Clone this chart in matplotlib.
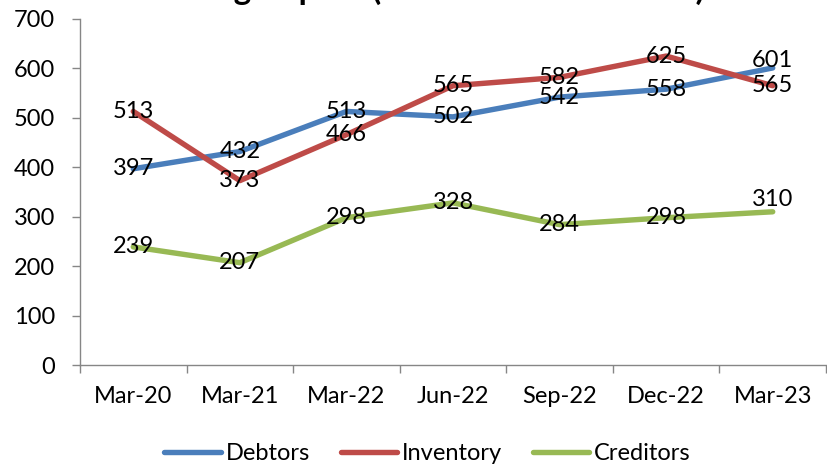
import matplotlib
matplotlib.use("Agg")
import matplotlib.pyplot as plt
import numpy as np

plt.rcParams['font.family'] = ['Lato', 'DejaVu Sans']

# chart data
periods = ["Mar-20", "Mar-21", "Mar-22", "Jun-22", "Sep-22", "Dec-22", "Mar-23"]
debtors = [397, 432, 513, 502, 542, 558, 601]
inventory = [513, 373, 466, 565, 582, 625, 565]
creditors = [239, 207, 298, 328, 284, 298, 310]
title = "Working Capital (Amount in Rs. Crores)"

blue = "#4A7EBB"
red = "#BE4B48"
green = "#98B954"
axis_grey = "#868686"

fig = plt.figure(figsize=(8.27, 4.69), dpi=100)
ax = fig.add_axes([0.0967, 0.2217, 0.9021, 0.7378])

x = np.arange(len(periods))
series = [("Debtors", debtors, blue), ("Inventory", inventory, red), ("Creditors", creditors, green)]
for name, vals, col in series:
    ax.plot(x, vals, color=col, lw=3.9, solid_capstyle="round", solid_joinstyle="round", label=name)

# data labels sit centred on the points (last two nudged up like the original)
nudge = {("Debtors", 6): 7, ("Creditors", 6): 12}
for name, vals, col in series:
    for i, v in enumerate(vals):
        dy = nudge.get((name, i), 0)
        ax.annotate(str(v), (i, v), xytext=(0, dy * 0.72), textcoords="offset points",
                    ha="center", va="center", fontsize=17, color="black")

ax.set_xlim(-0.5, len(periods) - 0.5)
ax.set_ylim(0, 700)
ax.set_yticks(range(0, 701, 100))
ax.set_xticks(x)
ax.set_xticklabels(periods)
ax.set_xticks(np.arange(-0.5, len(periods)), minor=True)
ax.tick_params(axis="x", which="major", length=0, pad=15, labelsize=17)
ax.tick_params(axis="x", which="minor", length=6, color=axis_grey, width=1)
ax.tick_params(axis="y", length=6, color=axis_grey, width=1, pad=12, labelsize=17)

for s in ["top", "right"]:
    ax.spines[s].set_visible(False)
for s in ["left", "bottom"]:
    ax.spines[s].set_color(axis_grey)
    ax.spines[s].set_linewidth(1)

fig.text(0.5, 1.0, title, ha="center", va="baseline", fontsize=24, fontweight="bold")

fig.legend(loc="center", bbox_to_anchor=(0.517, 0.032), ncol=3, frameon=False,
           fontsize=17, handlelength=2.4, handletextpad=0.2, columnspacing=1.3)

fig.savefig("out.png", dpi=100)
